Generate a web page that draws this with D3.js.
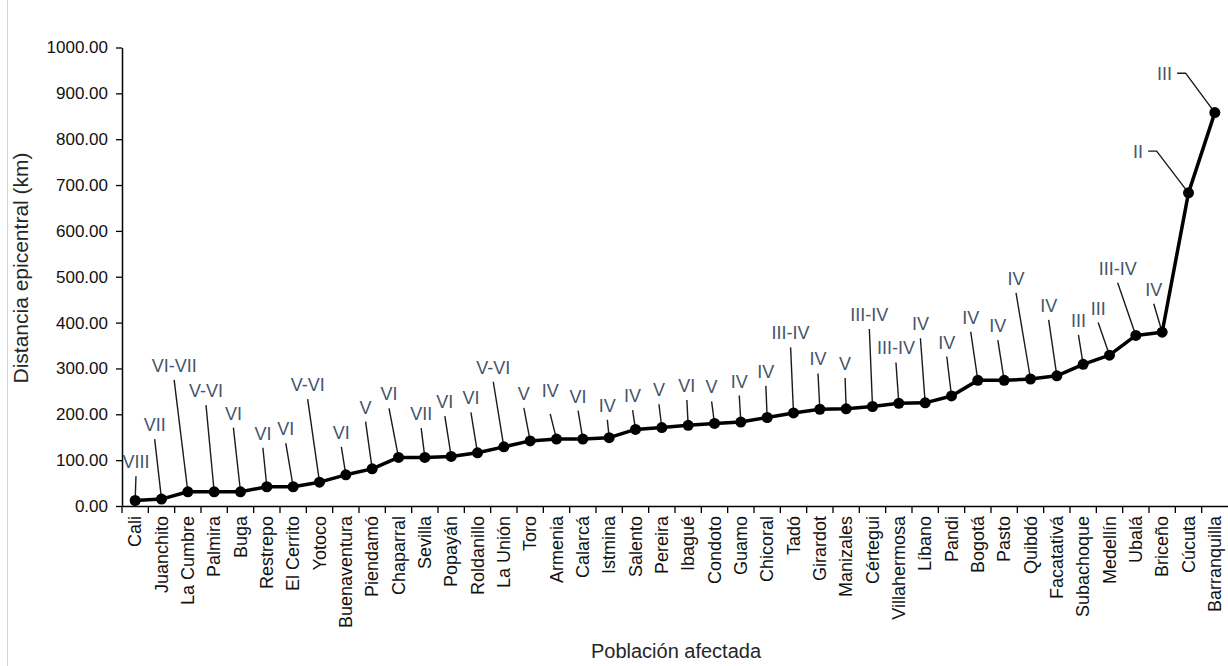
<!DOCTYPE html>
<html>
<head>
<meta charset="utf-8">
<script src="https://cdn.jsdelivr.net/npm/d3@7/dist/d3.min.js"></script>
<style>
  html, body { margin: 0; padding: 0; background: #fff; }
  svg { display: block; font-family: "Liberation Sans", Arial, sans-serif; }
</style>
</head>
<body>
<svg id="chart" width="1228" height="666"></svg>
<script>
// ---------- DATA ----------
const categories = ["Cali","Juanchito","La Cumbre","Palmira","Buga","Restrepo","El Cerrito","Yotoco",
  "Buenaventura","Piendamó","Chaparral","Sevilla","Popayán","Roldanillo","La Unión","Toro","Armenia",
  "Calarcá","Istmina","Salento","Pereira","Ibagué","Condoto","Guamo","Chicoral","Tadó","Girardot",
  "Manizales","Cértegui","Villahermosa","Líbano","Pandi","Bogotá","Pasto","Quibdó","Facatativá",
  "Subachoque","Medellín","Ubalá","Briceño","Cúcuta","Barranquilla"];

const distanceKm = [12,15,31,31,31,42,42,52,68,81,106,106,108,116,129,142,146,146,149,167,171,176,180,
  183,193,203,211,212,217,224,225,240,274,274,277,284,309,329,372,379,683,858];

const intensity = ["VIII","VII","VI-VII","V-VI","VI","VI","VI","V-VI","VI","V","VI","VII","VI","VI",
  "V-VI","V","IV","VI","IV","IV","V","VI","V","IV","IV","III-IV","IV","V","III-IV","III-IV","IV","IV",
  "IV","IV","IV","IV","III","III","III-IV","IV","II","III"];

// height (km) where each label's leader line ends
const leaderTopKm = [65,146,275,220,171,127,137,233,129,184,213,170,196,204,271,214,201,208,188,209,
  222,231,228,241,262,346,289,279,386,313,366,326,380,362,465,406,373,400,487,441,774,944];

const yTicks = [0,100,200,300,400,500,600,700,800,900,1000];

// ---------- LAYOUT ----------
// horizontal offset of each leader top from its point, in band widths
const leaderDx = [0.03,-0.26,-0.52,-0.31,-0.27,-0.15,-0.28,-0.45,-0.17,-0.25,-0.36,-0.14,-0.24,-0.25,
  -0.40,-0.24,-0.24,-0.18,-0.07,-0.11,-0.11,-0.05,-0.11,-0.06,-0.05,-0.11,-0.07,-0.04,-0.12,-0.11,
  -0.18,-0.18,-0.27,-0.24,-0.55,-0.31,-0.18,-0.43,-0.69,-0.32,-1.21,-1.11];
const elbowIdx = [40, 41];           // labels with a horizontal elbow (left side)
const labelGap = {16: 23};          // custom gap (px) between leader top and label
const defaultGap = 14;

const W = 1228, H = 666;
const svg = d3.select("#chart");

// light frame line at left
svg.append("line").attr("x1", 7.5).attr("x2", 7.5).attr("y1", 0).attr("y2", H)
  .attr("stroke", "#d4d4d4").attr("stroke-width", 1);

const x = d3.scaleBand().domain(categories).range([122, 1228]).padding(0);
const y = d3.scaleLinear().domain([0, 1000]).range([506, 47.5]);
const bw = x.bandwidth();
const cx = d => x(d) + bw / 2;

// Y axis
const yAxis = svg.append("g").attr("transform", "translate(122,0)")
  .call(d3.axisLeft(y).tickValues(yTicks).tickFormat(d3.format(".2f")).tickSize(6).tickSizeOuter(0).tickPadding(8));
yAxis.select(".domain").attr("stroke", "#000").attr("stroke-width", 1.5);
yAxis.selectAll(".tick line").attr("stroke", "#000").attr("stroke-width", 1.3);
yAxis.selectAll(".tick text").attr("font-size", 17).attr("fill", "#111")
  .attr("font-family", "Liberation Sans, Arial, sans-serif");

// X axis
const xAxis = svg.append("g").attr("transform", "translate(0,506)")
  .call(d3.axisBottom(x).tickSize(7).tickSizeOuter(0).tickPadding(0));
xAxis.select(".domain").attr("stroke", "#000").attr("stroke-width", 1.5);
xAxis.selectAll(".tick line").attr("stroke", "#000").attr("stroke-width", 1.3)
  .attr("x1", -bw / 2).attr("x2", -bw / 2);
xAxis.selectAll(".tick text")
  .attr("font-size", 18).attr("fill", "#111")
  .attr("font-family", "Liberation Sans, Arial, sans-serif")
  .attr("text-anchor", "end")
  .attr("dy", null)
  .attr("dominant-baseline", "central")
  .attr("transform", "translate(0,10) rotate(-90)")
  .attr("y", 0).attr("x", 0);

// Axis titles
svg.append("text").attr("x", 676).attr("y", 658).attr("text-anchor", "middle")
  .attr("font-size", 20).attr("fill", "#262626").text("Población afectada");
svg.append("text").attr("transform", "translate(28,268) rotate(-90)").attr("text-anchor", "middle")
  .attr("font-size", 21).attr("fill", "#262626").text("Distancia epicentral (km)");

// Leader lines and labels
const ann = svg.append("g");
categories.forEach((c, i) => {
  const px = cx(c), py = y(distanceKm[i]);
  const tx = px + leaderDx[i] * bw, ty = y(leaderTopKm[i]);
  if (elbowIdx.includes(i)) {
    const hx = tx - 8.5;
    ann.append("path").attr("d", `M${px},${py}L${tx},${ty}L${hx},${ty}`)
      .attr("fill", "none").attr("stroke", "#1a1a1a").attr("stroke-width", 1.4);
    ann.append("text").attr("x", hx - 5).attr("y", ty + 1).attr("text-anchor", "end")
      .attr("dominant-baseline", "central").attr("font-size", 18).attr("fill", "#44546A")
      .text(intensity[i]);
  } else {
    ann.append("line").attr("x1", px).attr("y1", py).attr("x2", tx).attr("y2", ty)
      .attr("stroke", "#1a1a1a").attr("stroke-width", 1.4);
    const gap = labelGap[i] !== undefined ? labelGap[i] : defaultGap;
    ann.append("text").attr("x", tx).attr("y", ty - gap).attr("text-anchor", "middle")
      .attr("dominant-baseline", "central").attr("font-size", 18).attr("fill", "#44546A")
      .text(intensity[i]);
  }
});

// Main line + markers
const line = d3.line().x(d => cx(d.c)).y(d => y(d.v));
const pts = categories.map((c, i) => ({c, v: distanceKm[i]}));
svg.append("path").datum(pts).attr("d", line).attr("fill", "none")
  .attr("stroke", "#000").attr("stroke-width", 3.5).attr("stroke-linejoin", "round");
svg.append("g").selectAll("circle").data(pts).join("circle")
  .attr("cx", d => cx(d.c)).attr("cy", d => y(d.v)).attr("r", 5.5).attr("fill", "#000");
</script>
</body>
</html>
